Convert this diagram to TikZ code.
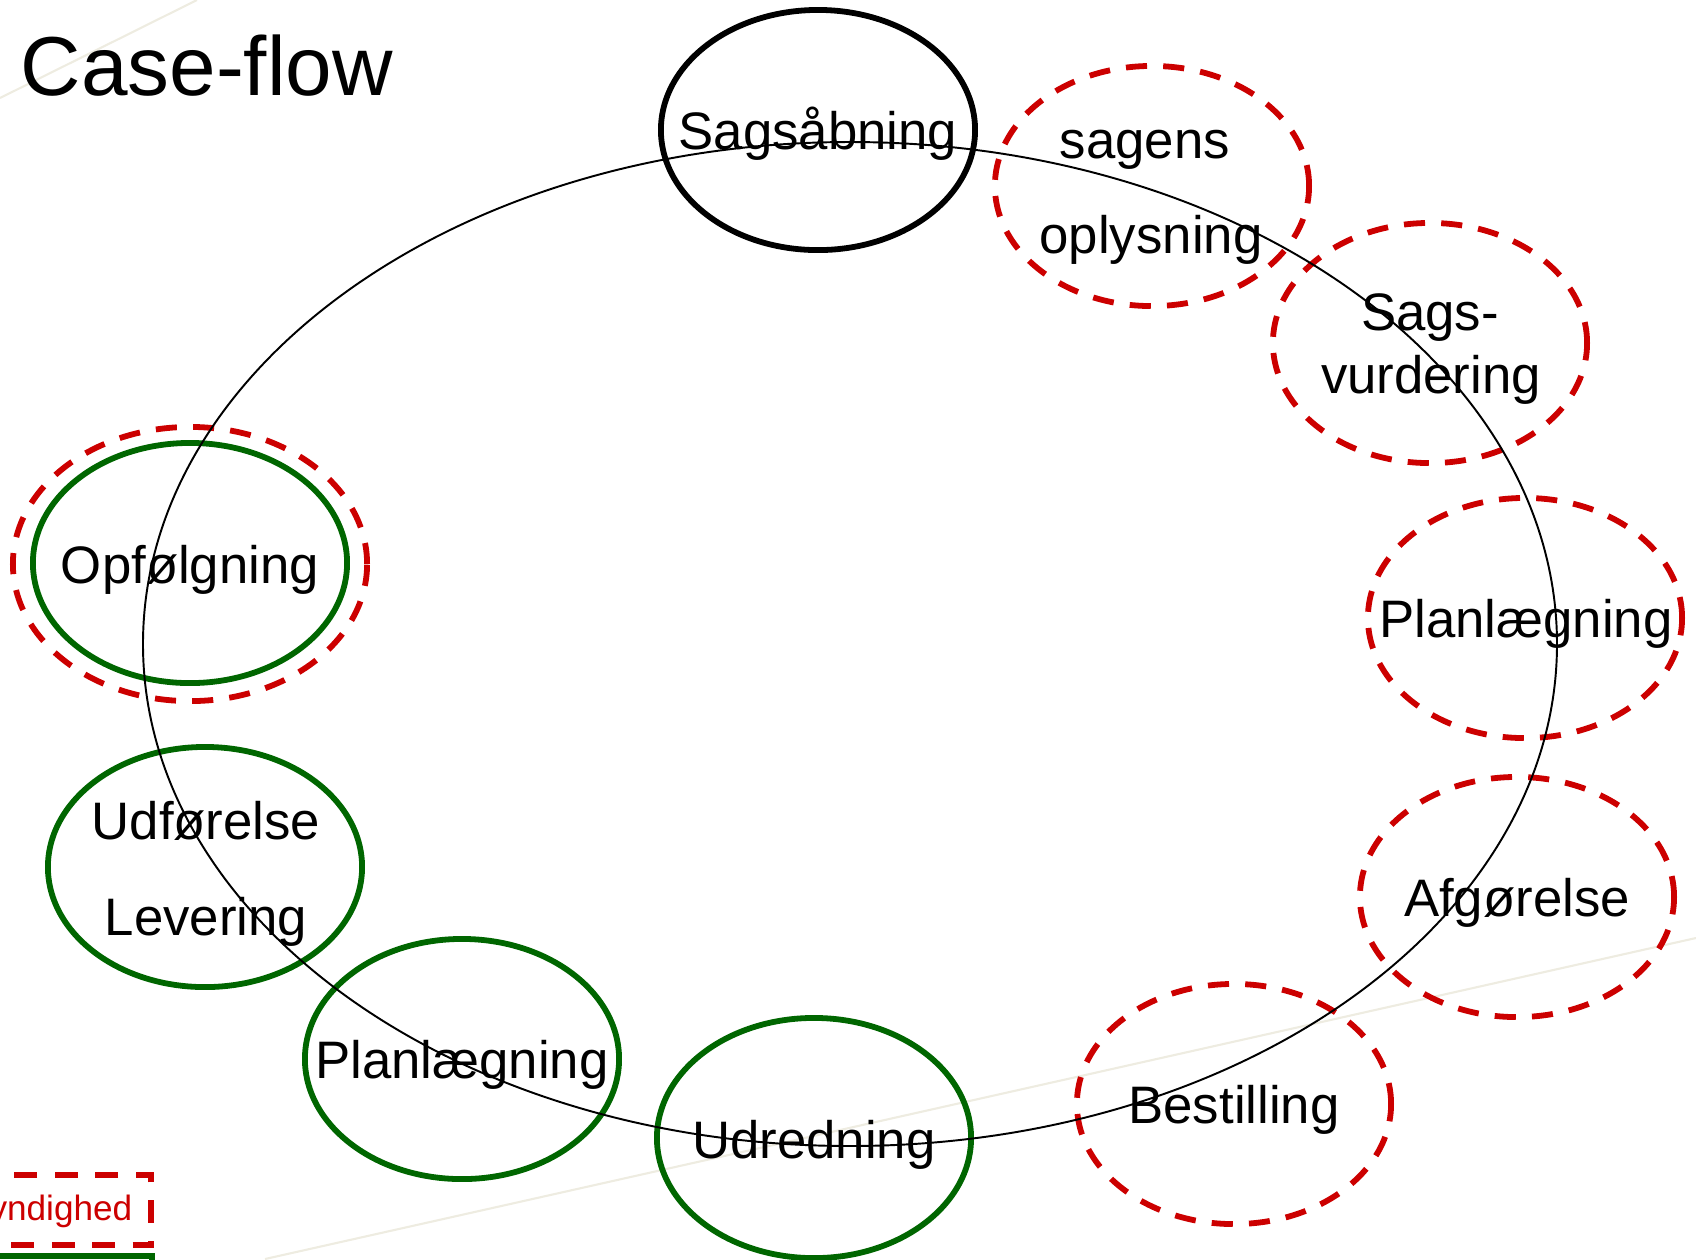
\documentclass[tikz,border=0pt]{standalone}
\usepackage{fontspec}
\setmainfont{Liberation Sans}
\usetikzlibrary{shapes.geometric}
\definecolor{myred}{RGB}{204,0,0}
\definecolor{mygreen}{RGB}{0,102,0}
\definecolor{faintline}{RGB}{238,236,225}
\tikzset{
  stage/.style={ellipse, minimum width=3.14cm, minimum height=2.4cm, inner sep=0pt, line width=1.65pt},
  opening/.style={stage, draw=black},
  authority/.style={stage, draw=myred, dash pattern=on 6pt off 4.6pt},
  delivery/.style={stage, draw=mygreen},
  stagetext/.style={anchor=base, inner sep=0pt, font=\fontsize{15}{18}\selectfont}
}
\begin{document}
\begin{tikzpicture}[x=0.01cm, y=-0.01cm]
\useasboundingbox (0,0) rectangle (1696,1259);
\clip (0,0) rectangle (1696,1259);

\draw[faintline, line width=0.6pt] (0,98) -- (197,0);
\draw[faintline, line width=0.6pt] (265,1259) -- (1696,938);

\node[anchor=base west, inner sep=0pt, font=\fontsize{23.8}{28}\selectfont] (title) at (20,95) {Case-flow};

\node[opening] (open) at (818,130) {};
\node[authority] (oplys) at (1152,186) {};
\node[authority] (vurd) at (1430,343) {};
\node[authority] (planA) at (1525,618) {};
\node[authority] (afg) at (1517,897) {};
\node[authority] (best) at (1234,1104) {};
\node[delivery] (udred) at (814,1138) {};
\node[delivery] (planB) at (462,1059) {};
\node[delivery] (udf) at (205,867) {};
\node[delivery] (opf) at (190,563) {};
\node[authority, minimum width=3.54cm, minimum height=2.74cm] (opfring) at (190,564) {};

\node[stagetext] (openA) at (818,149) {Sagsåbning};
\node[stagetext] (oplysA) at (1145,158) {sagens};
\node[stagetext] (oplysB) at (1151,253) {oplysning};
\node[stagetext] (vurdA) at (1430,330) {Sags-};
\node[stagetext] (vurdB) at (1431,393) {vurdering};
\node[stagetext] (planAA) at (1526,637) {Planlægning};
\node[stagetext] (afgA) at (1517,916) {Afgørelse};
\node[stagetext] (bestA) at (1234,1123) {Bestilling};
\node[stagetext] (udredA) at (814,1158) {Udredning};
\node[stagetext] (planBA) at (462,1078) {Planlægning};
\node[stagetext] (udfA) at (206,839) {Udførelse};
\node[stagetext] (udfB) at (206,935) {Levering};
\node[stagetext] (opfA) at (190,583) {Opfølgning};

\draw[line width=0.55pt] (850,644) ellipse [x radius=707, y radius=502];

\draw[myred, line width=1.6pt, dash pattern=on 6.5pt off 5pt] (-40,1175) rectangle (151,1245);
\node[anchor=base east, inner sep=0pt, text=myred, font=\fontsize{10}{12}\selectfont] (myn) at (133,1220) {Myndighed};
\draw[mygreen, line width=1.6pt] (-40,1256) rectangle (152,1330);
\end{tikzpicture}
\end{document}
